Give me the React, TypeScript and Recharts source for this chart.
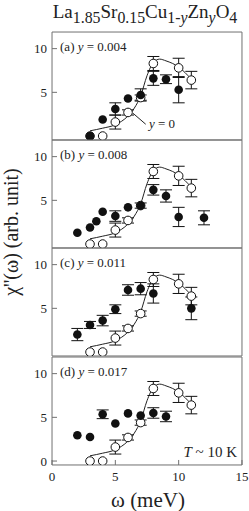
import React from 'react';
import { ComposedChart, Scatter, Line, XAxis, YAxis, ErrorBar, ReferenceLine } from 'recharts';

// y = 0 reference (open circles), identical in every panel
const refOmega = [3, 4, 5, 6, 7, 8, 10, 11];
const refChi = [0, 0, 1.6, 2.7, 4.4, 8.3, 7.8, 6.4];
const refErr = [0, 0, 0.8, 0.3, 0.3, 0.8, 1.1, 1.0];

// guide-to-the-eye curve through the y = 0 data
const fitOmega = [3, 4, 5, 6, 6.5, 7, 7.5, 8, 8.5, 9, 10, 11];
const fitChi = [0.6, 0.9, 1.3, 2.3, 3.2, 4.6, 6.9, 8.4, 8.8, 8.6, 7.9, 6.5];

// Zn doped samples (filled circles)
const omegaA = [3, 4, 5, 6, 7, 8, 9, 10];
const chiA = [0, 1.9, 3.1, 4.3, 4.7, 6.6, 6.5, 5.3];
const errA = [0, 0, 0.7, 0, 0.7, 0.8, 0.5, 1.5];

const omegaB = [2, 3, 3.5, 4, 5, 6, 7, 8, 9, 10, 12];
const chiB = [1.3, 1.9, 2.6, 3.7, 3.2, 4.2, 4.4, 6.2, 5.5, 3.1, 3.0];
const errB = [0, 0, 0, 0, 0.6, 0, 0, 0.6, 0.7, 1.1, 0.8];

const omegaC = [2, 3, 4, 5, 6, 7, 8, 11];
const chiC = [2.0, 3.1, 3.6, 4.9, 7.1, 7.25, 6.7, 5.0];
const errC = [0.7, 0.4, 0.6, 0.5, 0.6, 0.7, 1.1, 1.3];

const omegaD = [2, 3, 4, 5, 6, 7, 8, 9];
const chiD = [2.95, 2.75, 5.35, 4.3, 5.45, 5.2, 5.5, 5.1];
const errD = [0, 0, 0.5, 0, 0, 0, 0.6, 0.6];

const majorX = [0, 5, 10, 15];
const minorX = [0, 1, 2, 3, 4, 5, 6, 7, 8, 9, 10, 11, 12, 13, 14, 15];
const majorY = [0, 5, 10];
const minorY = [0, 1, 2, 3, 4, 5, 6, 7, 8, 9, 10, 11];

const W = 249;
const PLOT_H = 108;
const FONT = '"Liberation Serif", "DejaVu Serif", serif';
const FRAME = '#707070';
const INK = '#111';
const Y_DOMAIN: [number, number] = [-0.45, 11.9];
// axes need a non-zero size to be drawn, keep it negligible
const THIN = 0.01;

const toPts = (xs: number[], ys: number[], es: number[]) =>
    xs.map((x, i) => ({ x, y: ys[i], err: es[i] }));

const refPts = toPts(refOmega, refChi, refErr);
const fitPts = fitOmega.map((x, i) => ({ x, y: fitChi[i] }));

const filledDot = (p: any) => <circle cx={p.cx} cy={p.cy} r={4.3} fill={INK} />;
const openDot = (p: any) => <circle cx={p.cx} cy={p.cy} r={4.3} fill="#fff" stroke={INK} strokeWidth={1} />;

interface PanelProps {
    top: number;
    letter: string;
    conc: string;
    pts: { x: number; y: number; err: number }[];
    showX?: boolean;
    children?: React.ReactNode;
}

const Panel: React.FC<PanelProps> = ({ top, letter, conc, pts, showX, children }) => {
    const bottom = showX ? 22 : 1;
    return (
        <div style={{ position: 'absolute', left: 0, top: top - 1 }}>
            <ComposedChart width={W} height={PLOT_H + 1 + bottom} margin={{ top: 1, right: 7, bottom, left: 52 }}>
                <XAxis xAxisId="bm" type="number" dataKey="x" domain={[0, 15]} ticks={minorX} tick={false} tickSize={-2.5} axisLine={false} height={THIN} stroke={FRAME} allowDataOverflow />
                <XAxis xAxisId="tm" orientation="top" type="number" dataKey="x" domain={[0, 15]} ticks={minorX} tick={false} tickSize={-2.5} axisLine={false} height={THIN} stroke={FRAME} allowDataOverflow />
                <XAxis xAxisId="t" orientation="top" type="number" dataKey="x" domain={[0, 15]} ticks={majorX} tick={false} tickSize={-5} height={THIN} stroke={FRAME} allowDataOverflow />
                <XAxis
                    xAxisId="b"
                    type="number"
                    dataKey="x"
                    domain={[0, 15]}
                    ticks={majorX}
                    tickSize={-5}
                    tickMargin={12}
                    height={THIN}
                    stroke={FRAME}
                    allowDataOverflow
                    tick={showX ? { fill: '#222', fontSize: 13, fontFamily: FONT } : false}
                />
                <YAxis yAxisId="lm" type="number" dataKey="y" domain={Y_DOMAIN} ticks={minorY} tick={false} tickSize={-2.5} axisLine={false} width={THIN} stroke={FRAME} allowDataOverflow />
                <YAxis yAxisId="rm" orientation="right" type="number" dataKey="y" domain={Y_DOMAIN} ticks={minorY} tick={false} tickSize={-2.5} axisLine={false} width={THIN} stroke={FRAME} allowDataOverflow />
                <YAxis yAxisId="r" orientation="right" type="number" dataKey="y" domain={Y_DOMAIN} ticks={majorY} tick={false} tickSize={-5} width={THIN} stroke={FRAME} allowDataOverflow />
                <YAxis
                    yAxisId="l"
                    type="number"
                    dataKey="y"
                    domain={Y_DOMAIN}
                    ticks={majorY}
                    tickSize={-5}
                    tickMargin={10}
                    width={THIN}
                    stroke={FRAME}
                    allowDataOverflow
                    tick={{ fill: '#222', fontSize: 13, fontFamily: FONT }}
                />
                <Line data={fitPts} dataKey="y" xAxisId="b" yAxisId="l" type="monotone" dot={false} stroke="#222" strokeWidth={1} isAnimationActive={false} />
                <Scatter data={refPts} xAxisId="b" yAxisId="l" shape={openDot} isAnimationActive={false}>
                    <ErrorBar dataKey="err" direction="y" width={6} stroke={INK} strokeWidth={1} />
                </Scatter>
                <Scatter data={pts} xAxisId="b" yAxisId="l" shape={filledDot} isAnimationActive={false}>
                    <ErrorBar dataKey="err" direction="y" width={6} stroke={INK} strokeWidth={1} />
                </Scatter>
                {children}
            </ComposedChart>
            <div style={{ position: 'absolute', left: 60, top: 9, fontFamily: FONT, fontSize: 13, lineHeight: '13px', color: '#222', whiteSpace: 'nowrap' }}>
                ({letter}) <i>y</i> = {conc}
            </div>
        </div>
    );
};

export default function App() {
    return (
        <div style={{ position: 'absolute', left: 0, top: 0, width: W, height: 511, background: '#fff', fontFamily: FONT }}>
            <div style={{ position: 'absolute', left: 52, top: 2, width: 186, textAlign: 'center', fontSize: 19, lineHeight: '20px', color: '#222', whiteSpace: 'nowrap' }}>
                La<sub>1.85</sub>Sr<sub>0.15</sub>Cu<sub>1-<i>y</i></sub>Zn<sub><i>y</i></sub>O<sub>4</sub>
            </div>
            <Panel top={32} letter="a" conc="0.004" pts={toPts(omegaA, chiA, errA)}>
                <ReferenceLine xAxisId="b" yAxisId="l" segment={[{ x: 6.4, y: 2.6 }, { x: 7.4, y: 1.35 }]} stroke="#222" strokeWidth={1} />
            </Panel>
            <Panel top={140} letter="b" conc="0.008" pts={toPts(omegaB, chiB, errB)} />
            <Panel top={248} letter="c" conc="0.011" pts={toPts(omegaC, chiC, errC)} />
            <Panel top={357} letter="d" conc="0.017" pts={toPts(omegaD, chiD, errD)} showX />
            <div style={{ position: 'absolute', left: 149, top: 117, fontSize: 13, lineHeight: '13px', color: '#222', whiteSpace: 'nowrap' }}>
                <i>y</i> = 0
            </div>
            <div style={{ position: 'absolute', right: 12, top: 445, fontSize: 15, lineHeight: '15px', color: '#222', whiteSpace: 'nowrap' }}>
                <i>T</i> ~ 10 K
            </div>
            <div style={{ position: 'absolute', left: 11, top: 232, transform: 'translate(-50%, -50%) rotate(-90deg)', fontSize: 20, lineHeight: '20px', color: '#222', whiteSpace: 'nowrap' }}>
                χ''(ω) (arb. unit)
            </div>
            <div style={{ position: 'absolute', left: 148, top: 500, transform: 'translate(-50%, -50%)', fontSize: 21, lineHeight: '21px', color: '#222', whiteSpace: 'nowrap' }}>
                ω (meV)
            </div>
        </div>
    );
}
